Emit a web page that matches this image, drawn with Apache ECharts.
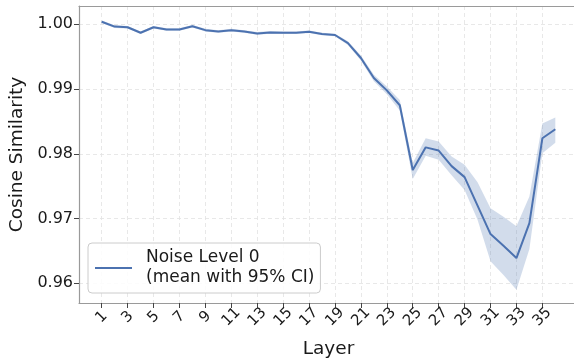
<!DOCTYPE html>
<html>
<head>
<meta charset="utf-8">
<script src="https://cdn.jsdelivr.net/npm/echarts@6/dist/echarts.min.js"></script>
<style>
  html, body { margin: 0; padding: 0; background: #fff; }
  #chart { width: 574px; height: 360px; }
</style>
</head>
<body>
<div id="chart"></div>
<script>
// Layers 1..36
const layers = Array.from({ length: 36 }, (_, i) => i + 1);

// Mean cosine similarity per layer
const meanValues = [
  1.0004, 0.99965, 0.99955, 0.9987, 0.99955, 0.9992, 0.9992, 0.9997, 0.9991, 0.9989,
  0.9991, 0.9989, 0.9986, 0.99875, 0.9987, 0.9987, 0.99885, 0.9985, 0.99835, 0.9971,
  0.9948, 0.9917, 0.9898, 0.9875, 0.9775, 0.9810, 0.9805, 0.9781, 0.9764, 0.9720,
  0.9676, 0.9658, 0.9639, 0.9693, 0.9824, 0.9838
];

// 95% confidence interval bounds
const ciLower = [
  1.0002, 0.99945, 0.99935, 0.9985, 0.99935, 0.9990, 0.9990, 0.9995, 0.9989, 0.9987,
  0.9989, 0.9987, 0.9984, 0.99855, 0.9985, 0.9985, 0.99865, 0.9983, 0.99815, 0.9968,
  0.9944, 0.9912, 0.9892, 0.9867, 0.9761, 0.9797, 0.9791, 0.9767, 0.9744, 0.9698,
  0.9634, 0.9613, 0.9590, 0.9653, 0.9801, 0.9817
];
const ciUpper = [
  1.0006, 0.99985, 0.99975, 0.9989, 0.99975, 0.9994, 0.9994, 0.9999, 0.9993, 0.9991,
  0.9993, 0.9991, 0.9988, 0.99895, 0.9989, 0.9989, 0.99905, 0.9987, 0.99855, 0.9974,
  0.9952, 0.9922, 0.9904, 0.9883, 0.9786, 0.9824, 0.9819, 0.9796, 0.9783, 0.9756,
  0.9716, 0.9703, 0.9688, 0.9734, 0.9847, 0.9856
];

// Axis ticks
const xTicks = [1, 3, 5, 7, 9, 11, 13, 15, 17, 19, 21, 23, 25, 27, 29, 31, 33, 35];
const yTicks = [0.96, 0.97, 0.98, 0.99, 1.00];

const seriesName = 'Noise Level 0\n(mean with 95% CI)';
const lineColor = '#4c72b0';
const spineColor = '#9a9a9a';
const gridLine = { show: true, lineStyle: { color: '#e2e2e2', type: [4, 3], width: 0.8 } };
const font = 'DejaVu Sans';

const meanData = layers.map((l, i) => [l, meanValues[i]]);

// Confidence band polygon: upper edge left-to-right, then lower edge right-to-left
function renderBand(params, api) {
  const pts = [];
  for (let i = 0; i < layers.length; i++) pts.push(api.coord([layers[i], ciUpper[i]]));
  for (let i = layers.length - 1; i >= 0; i--) pts.push(api.coord([layers[i], ciLower[i]]));
  return {
    type: 'polygon',
    shape: { points: pts },
    style: { fill: lineColor, opacity: 0.25 },
    silent: true
  };
}

const chart = echarts.init(document.getElementById('chart'), null, { renderer: 'canvas' });

chart.setOption({
  animation: false,
  backgroundColor: '#fff',
  grid: { left: 79, right: -4, top: 6, bottom: 57, containLabel: false, outerBoundsMode: 'none' },
  legend: {
    data: [{ name: seriesName, icon: 'rect' }],
    left: 88,
    top: 243,
    orient: 'vertical',
    padding: [5, 6, 5, 7],
    itemWidth: 37,
    itemHeight: 2,
    borderColor: '#cccccc',
    borderWidth: 1,
    borderRadius: 4,
    backgroundColor: 'rgba(255,255,255,0.85)',
    textStyle: { fontFamily: font, fontSize: 17, color: '#1a1a1a', lineHeight: 20, padding: [0, 0, 0, 9] }
  },
  xAxis: [
    {
      type: 'value',
      min: -0.75,
      max: 37.75,
      name: 'Layer',
      nameLocation: 'middle',
      nameGap: 37,
      nameTextStyle: { fontFamily: font, fontSize: 18.5, color: '#1a1a1a' },
      axisLine: { show: true, onZero: false, lineStyle: { color: spineColor, width: 1.2 } },
      axisTick: { show: true, length: 5, customValues: xTicks, lineStyle: { color: '#444', width: 1 } },
      axisLabel: {
        customValues: xTicks,
        rotate: 45,
        align: 'center',
        verticalAlign: 'middle',
        margin: 14,
        fontFamily: font,
        fontSize: 15,
        color: '#1a1a1a'
      },
      splitLine: gridLine
    },
    {
      // top frame line
      type: 'value',
      position: 'top',
      min: -0.75,
      max: 37.75,
      axisLine: { show: true, onZero: false, lineStyle: { color: spineColor, width: 1.2 } },
      axisTick: { show: false },
      axisLabel: { show: false },
      splitLine: { show: false }
    }
  ],
  yAxis: {
    type: 'value',
    min: 0.95696,
    max: 1.00283,
    name: 'Cosine Similarity',
    nameLocation: 'middle',
    nameGap: 49,
    nameTextStyle: { fontFamily: font, fontSize: 18.5, color: '#1a1a1a' },
    axisLine: { show: true, onZero: false, lineStyle: { color: spineColor, width: 1.2 } },
    axisTick: { show: true, length: 5, customValues: yTicks, lineStyle: { color: '#444', width: 1 } },
    axisLabel: {
      customValues: yTicks,
      formatter: v => v.toFixed(2),
      margin: 6,
      fontFamily: font,
      fontSize: 16,
      color: '#1a1a1a'
    },
    splitLine: gridLine
  },
  series: [
    {
      name: 'ciBand',
      type: 'custom',
      renderItem: renderBand,
      data: [[layers[0], ciLower[0]]],
      clip: true,
      silent: true,
      z: 2
    },
    {
      name: seriesName,
      type: 'line',
      data: meanData,
      symbol: 'none',
      color: lineColor,
      lineStyle: { color: lineColor, width: 2 },
      z: 5
    }
  ]
});
</script>
</body>
</html>
